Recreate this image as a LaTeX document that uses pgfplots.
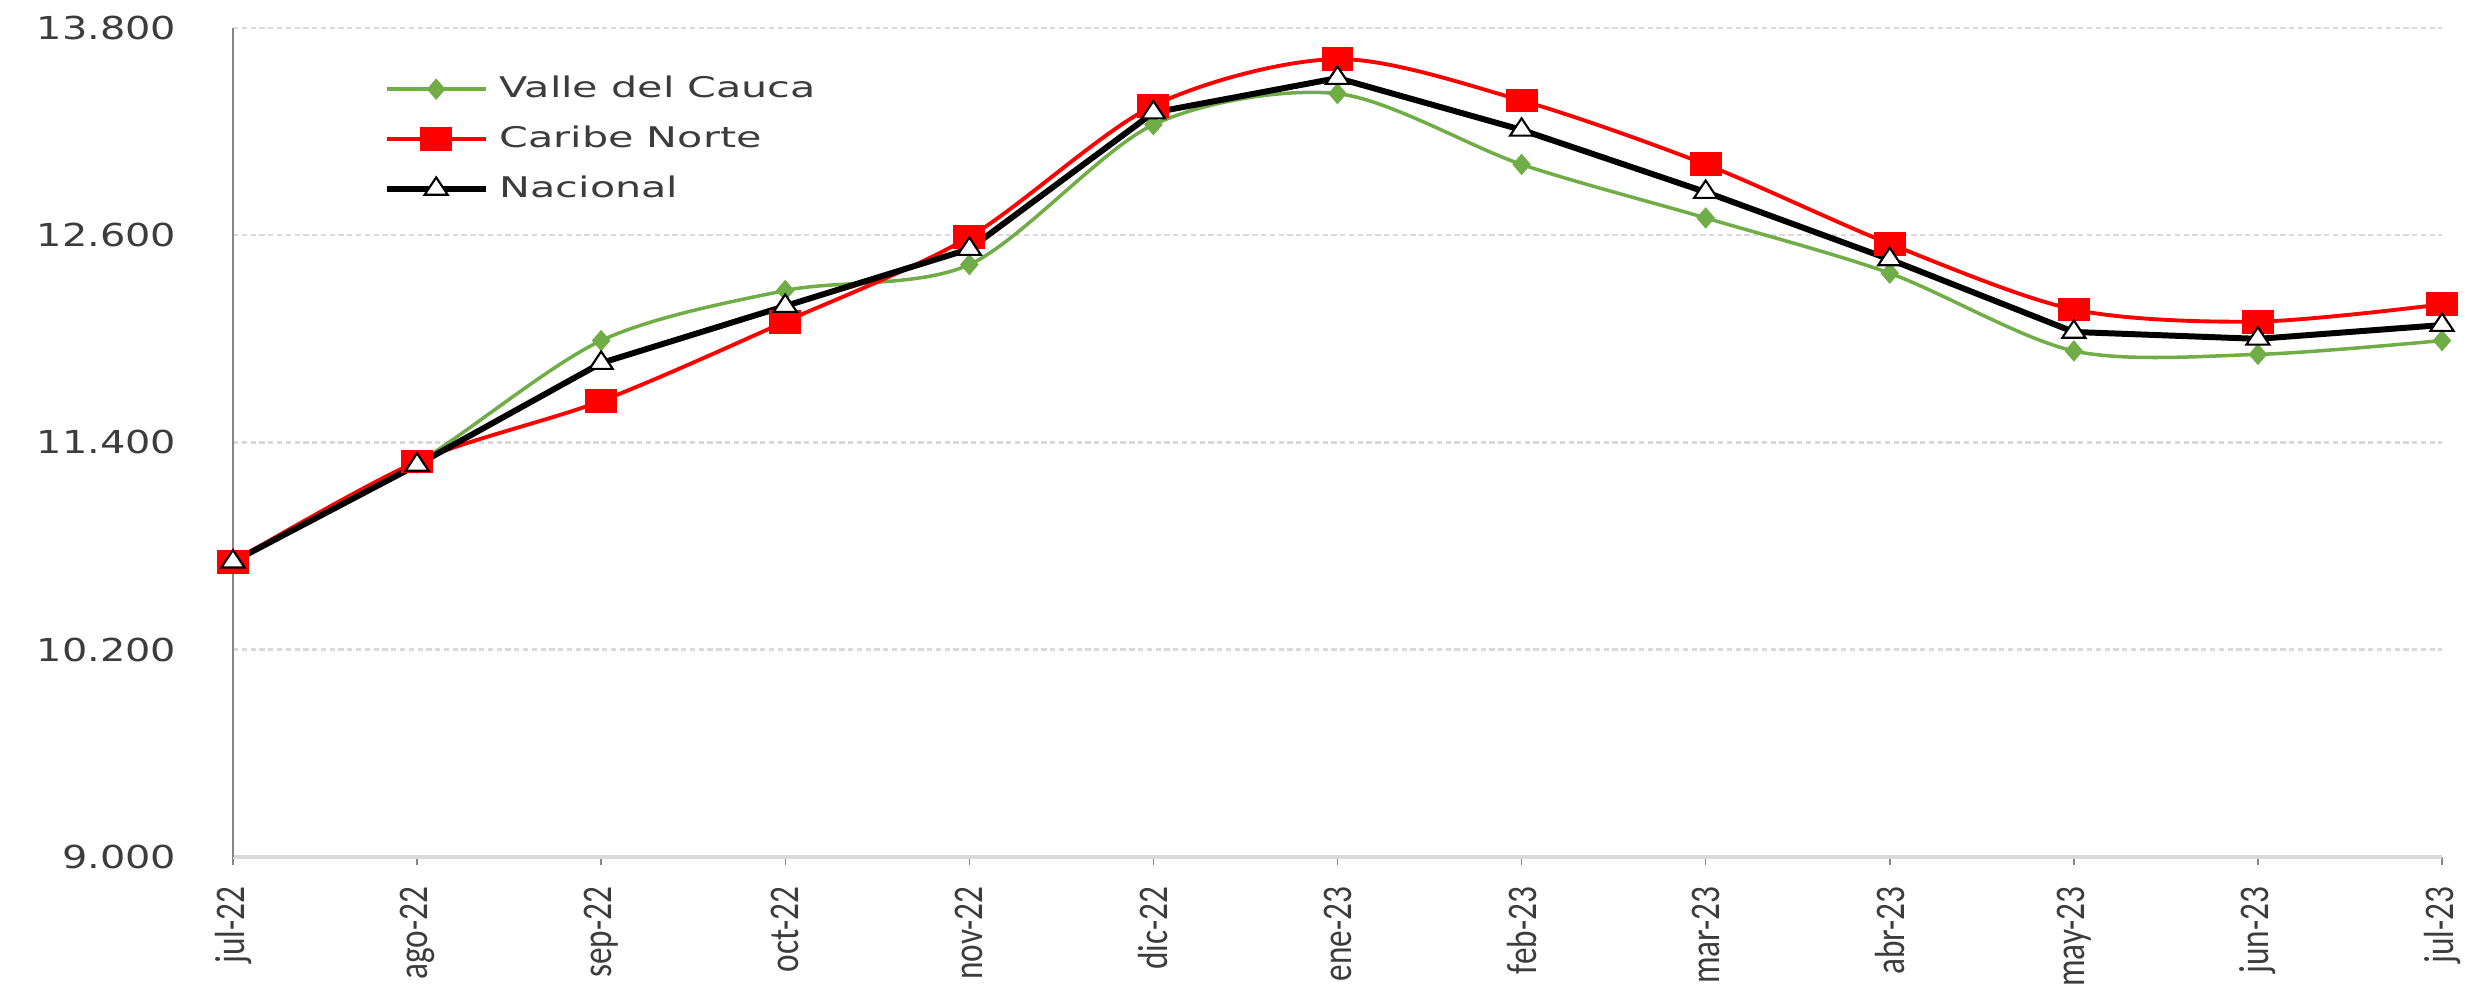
\documentclass[border=0pt]{standalone}
\usepackage{fontspec}
\setmainfont{DejaVu Sans}
\newfontfamily\tickfont[FakeStretch=1.26]{DejaVu Sans}
\newfontfamily\legfont[FakeStretch=1.45]{DejaVu Sans}
\newfontfamily\xfont[FakeStretch=0.79]{Carlito}
\usepackage{pgfplots}
\pgfplotsset{compat=1.18}
\definecolor{vgreen}{RGB}{112,173,71}
\definecolor{cred}{RGB}{255,0,0}
\definecolor{axgray}{RGB}{134,134,134}
\definecolor{gridgray}{RGB}{217,217,217}
\definecolor{txt}{RGB}{60,60,60}

\begin{document}
\begin{tikzpicture}
\begin{axis}[
  name=ax,
  scale only axis,
  width=220.9mm, height=82.9mm,
  xmin=0, xmax=12, ymin=9000, ymax=13800,
  axis x line=bottom, axis y line=left,
  axis line style={-},
  x axis line style={draw=gridgray, line width=0.35mm},
  y axis line style={draw=axgray, line width=0.2mm},
  xtick={0,...,12},
  xticklabels={jul-22,ago-22,sep-22,oct-22,nov-22,dic-22,ene-23,feb-23,mar-23,abr-23,may-23,jun-23,jul-23},
  ytick={9000,10200,11400,12600,13800},
  yticklabels={9.000,10.200,11.400,12.600,13.800},
  scaled y ticks=false,
  ymajorgrids,
  grid style={gridgray, line width=0.25mm, dash pattern=on 1.5pt off 1pt},
  tick align=outside,
  xtick style={draw=axgray, line width=0.15mm},
  major tick length=0.8mm,
  ytick style={draw=none},
  xticklabel style={font=\xfont\fontsize{12}{12}\selectfont, rotate=90, anchor=east, inner sep=0pt, text=txt},
  xticklabel shift=2.1mm,
  yticklabel style={font=\tickfont\fontsize{9}{9}\selectfont, anchor=east, inner sep=0pt, text=txt},
  yticklabel shift=4.8mm,
  clip=false,
  legend style={draw=none, fill=none, at={(rel axis cs:0.0679,0.866)}, anchor=west,
    inner sep=0pt, row sep=2.3mm, column sep=1.1mm,
    font=\legfont\fontsize{8.1}{8.1}\selectfont, text=txt,
    nodes={inner sep=0pt}},
  legend cell align=left,
  legend image code/.code={\draw[mark repeat=2,mark phase=2] plot coordinates {(0mm,0mm)(4.95mm,0mm)(9.9mm,0mm)};},
]
% Valle del Cauca
\addplot[vgreen, line width=1pt, smooth, tension=0.5, mark=diamond*, mark size=2.3pt,
  mark options={xscale=1.15, fill=vgreen, draw=vgreen}]
  coordinates {(0,10710)(1,11280)(2,11990)(3,12280)(4,12430)(5,13240)(6,13420)
               (7,13010)(8,12700)(9,12380)(10,11930)(11,11910)(12,11990)};
\addlegendentry{Valle del Cauca}
% Caribe Norte
\addplot[cred, line width=1.1pt, smooth, tension=0.5, mark=square*, mark size=2.85pt,
  mark options={xscale=1.4, fill=cred, draw=cred}]
  coordinates {(0,10710)(1,11290)(2,11640)(3,12100)(4,12590)(5,13350)(6,13620)
               (7,13380)(8,13010)(9,12550)(10,12170)(11,12100)(12,12200)};
\addlegendentry{Caribe Norte}
% Nacional
\addplot[black, line width=1.7pt, mark=triangle*, mark size=3.3pt,
  mark options={xscale=1.15, fill=white, draw=black, line width=0.6pt}]
  coordinates {(0,10710)(1,11270)(2,11860)(3,12190)(4,12520)(5,13310)(6,13510)
               (7,13210)(8,12850)(9,12460)(10,12040)(11,12000)(12,12080)};
\addlegendentry{Nacional}
\end{axis}
\path ([shift={(-23.3mm,-12.8mm)}]ax.south west) rectangle ([shift={(2.3mm,2.8mm)}]ax.north east);
\end{tikzpicture}
\end{document}
